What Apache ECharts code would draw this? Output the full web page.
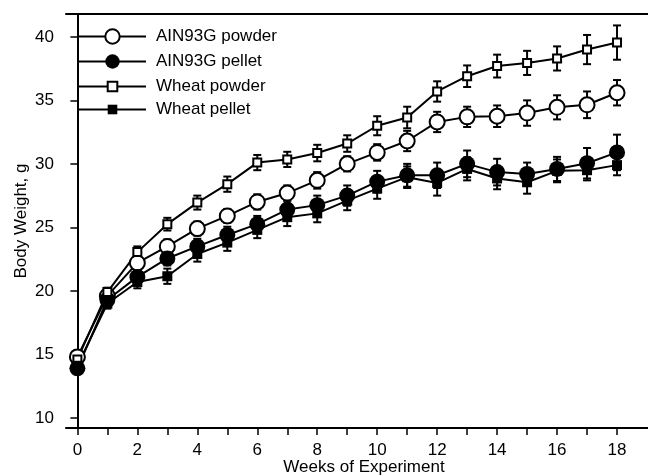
<!DOCTYPE html>
<html>
<head>
<meta charset="utf-8">
<script src="https://cdn.jsdelivr.net/npm/echarts@6/dist/echarts.min.js"></script>
<style>
  html, body { margin: 0; padding: 0; background: #fff; }
  #myChart { width: 648px; height: 475px; }
</style>
</head>
<body>
<div id="myChart"></div>
<script>
// weeks of the experiment
var weeks = [0, 1, 2, 3, 4, 5, 6, 7, 8, 9, 10, 11, 12, 13, 14, 15, 16, 17, 18];

// mean body weight, g
var ainPowder = [14.8, 19.6, 22.2, 23.5, 24.9, 25.9, 27.0, 27.7, 28.7, 30.0, 30.9, 31.8, 33.3, 33.7, 33.75, 34.0, 34.45, 34.65, 35.6];
var ainPellet = [13.9, 19.3, 21.1, 22.55, 23.5, 24.4, 25.25, 26.4, 26.75, 27.5, 28.6, 29.1, 29.1, 30.0, 29.35, 29.2, 29.6, 30.05, 30.9];
var wheatPowder = [14.6, 19.9, 23.05, 25.25, 26.95, 28.4, 30.1, 30.35, 30.85, 31.6, 33.0, 33.65, 35.7, 36.9, 37.7, 37.95, 38.3, 39.0, 39.55];
var wheatPellet = [14.1, 19.0, 20.7, 21.15, 22.9, 23.8, 24.8, 25.8, 26.1, 27.1, 28.05, 28.95, 28.5, 29.6, 28.85, 28.55, 29.45, 29.5, 29.9];

// error bars (+/-)
var ainPowderErr = [0.5, 0.4, 0.5, 0.55, 0.55, 0.55, 0.6, 0.6, 0.65, 0.6, 0.65, 0.8, 0.8, 0.8, 0.85, 1.0, 0.95, 1.05, 1.0];
var ainPelletErr = [0.45, 0.4, 0.5, 0.55, 0.6, 0.65, 0.65, 0.7, 0.75, 0.8, 0.85, 0.9, 1.0, 1.05, 1.05, 0.9, 0.95, 1.2, 1.4];
var wheatPowderErr = [0.5, 0.35, 0.45, 0.5, 0.55, 0.6, 0.6, 0.6, 0.65, 0.65, 0.75, 0.85, 0.8, 0.85, 0.9, 0.95, 0.95, 1.15, 1.35];
var wheatPelletErr = [0.45, 0.4, 0.5, 0.6, 0.6, 0.65, 0.65, 0.7, 0.7, 0.75, 0.8, 0.85, 1.0, 0.9, 0.85, 0.9, 0.9, 0.8, 0.8];

var xTicks = [0, 1, 2, 3, 4, 5, 6, 7, 8, 9, 10, 11, 12, 13, 14, 15, 16, 17, 18];
var xLabels = [0, 2, 4, 6, 8, 10, 12, 14, 16, 18];
var yTicks = [10, 15, 20, 25, 30, 35, 40];

var font = "'Liberation Sans', Arial, sans-serif";

function pairs(vals) {
  return weeks.map(function (w, i) { return [w, vals[i]]; });
}

function errData(vals, errs) {
  return weeks.map(function (w, i) { return [w, vals[i] - errs[i], vals[i] + errs[i]]; });
}

// vertical bar with caps
function renderErr(params, api) {
  var lo = api.coord([api.value(0), api.value(1)]);
  var hi = api.coord([api.value(0), api.value(2)]);
  var h = 4;
  var st = { stroke: '#000', lineWidth: 2 };
  return {
    type: 'group',
    children: [
      { type: 'line', shape: { x1: lo[0], y1: lo[1], x2: hi[0], y2: hi[1] }, style: st },
      { type: 'line', shape: { x1: lo[0] - h, y1: lo[1], x2: lo[0] + h, y2: lo[1] }, style: st },
      { type: 'line', shape: { x1: hi[0] - h, y1: hi[1], x2: hi[0] + h, y2: hi[1] }, style: st }
    ]
  };
}

function errSeries(vals, errs) {
  return {
    type: 'custom',
    renderItem: renderErr,
    data: errData(vals, errs),
    encode: { x: 0, y: [1, 2] },
    z: 1,
    silent: true
  };
}

function lineSeries(name, vals, symbol, size, open) {
  return {
    name: name,
    type: 'line',
    data: pairs(vals),
    symbol: symbol,
    symbolSize: size,
    showAllSymbol: true,
    z: 3,
    lineStyle: { color: '#000', width: 2 },
    itemStyle: open
      ? { color: '#fff', borderColor: '#000', borderWidth: 2 }
      : { color: '#000', borderColor: '#000', borderWidth: 0 }
  };
}

var myChart = echarts.init(document.getElementById('myChart'));

myChart.setOption({
  animation: false,
  textStyle: { fontFamily: font },
  grid: { left: 66, right: -14, top: 14, bottom: 47, containLabel: false, outerBoundsMode: 'none' },
  legend: [
    {
      data: ['AIN93G powder', 'AIN93G pellet'],
      orient: 'vertical',
      left: 73,
      top: 23,
      itemWidth: 67,
      itemHeight: 18,
      itemGap: 8,
      textStyle: { fontSize: 17, color: '#000', fontFamily: font, padding: [0, 0, 0, 5] }
    },
    {
      data: ['Wheat powder', 'Wheat pellet'],
      orient: 'vertical',
      left: 73,
      top: 73,
      itemWidth: 67,
      itemHeight: 12,
      itemGap: 6,
      textStyle: { fontSize: 17, color: '#000', fontFamily: font, padding: [0, 0, 0, 5] }
    }
  ],
  xAxis: [
    {
      type: 'value',
      min: -0.38,
      max: 19.5,
      name: 'Weeks of Experiment',
      nameLocation: 'middle',
      nameGap: 31,
      nameMoveOverlap: false,
      nameTextStyle: { fontSize: 17, color: '#000', fontFamily: font },
      splitLine: { show: false },
      axisLine: { lineStyle: { color: '#000', width: 2 } },
      axisTick: { customValues: xTicks, length: 7, lineStyle: { color: '#000', width: 1.5 } },
      axisLabel: { customValues: xLabels, margin: 14, fontSize: 17, color: '#000', fontFamily: font }
    },
    {
      type: 'value',
      position: 'top',
      min: -0.38,
      max: 19.5,
      splitLine: { show: false },
      axisLine: { lineStyle: { color: '#000', width: 2 } },
      axisTick: { show: false },
      axisLabel: { show: false }
    }
  ],
  yAxis: {
    type: 'value',
    min: 9.2,
    max: 41.8,
    name: 'Body Weight, g',
    nameLocation: 'middle',
    nameGap: 36,
    nameMoveOverlap: false,
    nameTextStyle: { fontSize: 17, color: '#000', fontFamily: font },
    splitLine: { show: false },
    axisLine: { show: true, lineStyle: { color: '#000', width: 2 } },
    axisTick: { show: true, customValues: yTicks, length: 7, lineStyle: { color: '#000', width: 1.5 } },
    axisLabel: { customValues: yTicks, margin: 12, fontSize: 17, color: '#000', fontFamily: font }
  },
  series: [
    errSeries(ainPowder, ainPowderErr),
    errSeries(ainPellet, ainPelletErr),
    errSeries(wheatPowder, wheatPowderErr),
    errSeries(wheatPellet, wheatPelletErr),
    lineSeries('AIN93G powder', ainPowder, 'circle', 15, true),
    lineSeries('AIN93G pellet', ainPellet, 'circle', 16, false),
    lineSeries('Wheat powder', wheatPowder, 'rect', 8, true),
    lineSeries('Wheat pellet', wheatPellet, 'rect', 10, false)
  ]
});
</script>
</body>
</html>
